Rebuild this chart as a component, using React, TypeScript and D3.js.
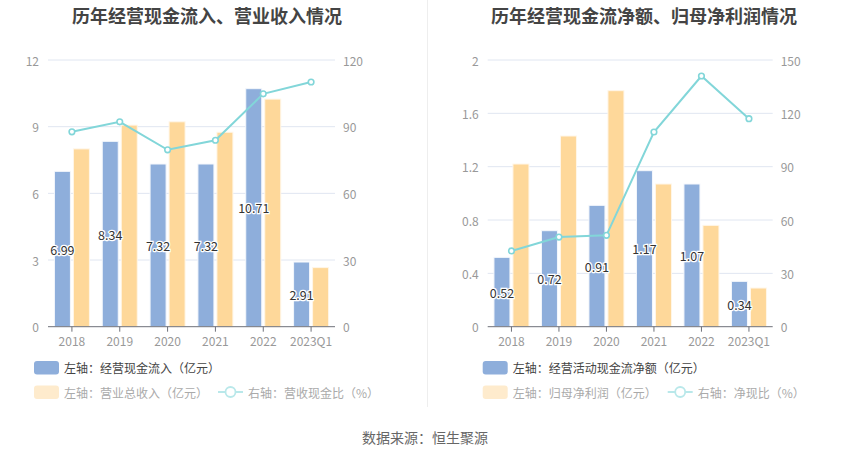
import React from "react";
import * as d3 from "d3";

const categories = ["2018", "2019", "2020", "2021", "2022", "2023Q1"];

// Left chart
const cashInflow = [6.99, 8.34, 7.32, 7.32, 10.71, 2.91];
const revenue = [8.0, 9.07, 9.22, 8.75, 10.24, 2.66];
const cashRevenueRatio = [87.7, 92.2, 79.6, 83.9, 104.8, 110.1];
const leftTicksL = [0, 3, 6, 9, 12];
const rightTicksL = [0, 30, 60, 90, 120];

// Right chart
const netCash = [0.52, 0.72, 0.91, 1.17, 1.07, 0.34];
const netProfit = [1.22, 1.43, 1.77, 1.07, 0.76, 0.29];
const netCashRatio = [42.6, 50.4, 51.4, 109.5, 141, 117];
const leftTicksR = [0, 0.4, 0.8, 1.2, 1.6, 2];
const rightTicksR = [0, 30, 60, 90, 120, 150];

const FONT = "'Noto Sans CJK SC', 'Noto Sans', sans-serif";
const BLUE = "#8eaedb";
const YELLOW = "#fed89a";
const CYAN = "#82d6d9";

type PanelProps = {
  x0: number;
  x1: number;
  title: string;
  titleX: number;
  barA: number[];
  barB: number[];
  line: number[];
  lTicks: number[];
  rTicks: number[];
  lMax: number;
  rMax: number;
  legA: string;
  legB: string;
  legC: string;
  legX: number;
  legLineX: number;
};

function Panel(p: PanelProps) {
  const top = 60;
  const bottom = 326.7;
  const x = d3.scaleBand<string>().domain(categories).range([p.x0, p.x1]);
  const yl = d3.scaleLinear().domain([0, p.lMax]).range([bottom, top]);
  const yr = d3.scaleLinear().domain([0, p.rMax]).range([bottom, top]);
  const bw = 16;
  const gap = 3;
  const cx = (c: string) => (x(c) as number) + x.bandwidth() / 2;
  const lineGen = d3
    .line<number>()
    .x((_, i) => cx(categories[i]))
    .y((d) => yr(d));
  return (
    <g fontFamily={FONT}>
      <text x={p.titleX} y={15} textAnchor="middle" dominantBaseline="central" fontSize={18} fontWeight="bold" fill="#444">
        {p.title}
      </text>
      {p.lTicks.map((t) => (
        <g key={"g" + t}>
          {t !== 0 && <line x1={p.x0} x2={p.x1} y1={yl(t)} y2={yl(t)} stroke="#e0e6f1" strokeWidth={1} />}
          <text x={p.x0 - 9} y={yl(t)} textAnchor="end" dominantBaseline="central" fontSize={12} fill="#999">
            {String(t)}
          </text>
        </g>
      ))}
      {p.rTicks.map((t) => (
        <text key={"r" + t} x={p.x1 + 8} y={yr(t)} textAnchor="start" dominantBaseline="central" fontSize={12} fill="#999">
          {t}
        </text>
      ))}
      {categories.map((c, i) => (
        <g key={c}>
          <rect x={cx(c) - gap / 2 - bw} y={yl(p.barA[i])} width={bw} height={bottom - yl(p.barA[i])} fill={BLUE} stroke="#f4f7fc" strokeWidth={1} />
          <rect x={cx(c) + gap / 2} y={yl(p.barB[i])} width={bw} height={bottom - yl(p.barB[i])} fill={YELLOW} stroke="#fff6e8" strokeWidth={1} />
          <line x1={cx(c)} x2={cx(c)} y1={bottom} y2={bottom + 5} stroke="#6e7079" />
          <text x={cx(c)} y={340} textAnchor="middle" dominantBaseline="central" fontSize={12} fill="#999">
            {c}
          </text>
        </g>
      ))}
      <line x1={p.x0} x2={p.x1} y1={bottom} y2={bottom} stroke="#6e7079" strokeWidth={1} />
      <path d={lineGen(p.line) || ""} fill="none" stroke={CYAN} strokeWidth={2} />
      {p.line.map((v, i) => (
        <circle key={"p" + i} cx={cx(categories[i])} cy={yr(v)} r={2.8} fill="#fff" stroke={CYAN} strokeWidth={1.6} />
      ))}
      {categories.map((c, i) => (
        <text
          key={"l" + c}
          x={cx(c) - gap / 2 - bw / 2}
          y={(yl(p.barA[i]) + bottom) / 2}
          textAnchor="middle"
          dominantBaseline="central"
          fontSize={12.5}
          fill="#333"
          stroke="#fff"
          strokeWidth={2.5}
          paintOrder="stroke"
        >
          {p.barA[i].toFixed(2)}
        </text>
      ))}
      <rect x={p.legX} y={361} width={25} height={13.5} rx={3} fill={BLUE} />
      <text x={p.legX + 30} y={367.7} dominantBaseline="central" fontSize={12} fill="#444">
        {p.legA}
      </text>
      <rect x={p.legX} y={385.5} width={25} height={13.5} rx={3} fill="#feebcd" />
      <text x={p.legX + 30} y={392} dominantBaseline="central" fontSize={12} fill="#aaa">
        {p.legB}
      </text>
      <line x1={p.legLineX} x2={p.legLineX + 25} y1={392} y2={392} stroke="#b9e8ea" strokeWidth={2} />
      <circle cx={p.legLineX + 12.5} cy={392} r={5} fill="#fff" stroke="#b9e8ea" strokeWidth={1.8} />
      <text x={p.legLineX + 30} y={392} dominantBaseline="central" fontSize={12} fill="#aaa">
        {p.legC}
      </text>
    </g>
  );
}

export default function App() {
  return (
    <svg width={850} height={459} style={{ position: "absolute", left: 0, top: 0, background: "#fff" }}>
      <rect width={850} height={459} fill="#fff" />
      <line x1={427.5} x2={427.5} y1={0} y2={407} stroke="#eeeeee" strokeWidth={1} />
      <Panel
        x0={48}
        x1={335}
        title="历年经营现金流入、营业收入情况"
        titleX={207}
        barA={cashInflow}
        barB={revenue}
        line={cashRevenueRatio}
        lTicks={leftTicksL}
        rTicks={rightTicksL}
        lMax={12}
        rMax={120}
        legA="左轴：经营现金流入（亿元）"
        legB="左轴：营业总收入（亿元）"
        legC="右轴：营收现金比（%）"
        legX={34}
        legLineX={218}
      />
      <Panel
        x0={487.7}
        x1={772.7}
        title="历年经营现金流净额、归母净利润情况"
        titleX={644}
        barA={netCash}
        barB={netProfit}
        line={netCashRatio}
        lTicks={leftTicksR}
        rTicks={rightTicksR}
        lMax={2}
        rMax={150}
        legA="左轴：经营活动现金流净额（亿元）"
        legB="左轴：归母净利润（亿元）"
        legC="右轴：净现比（%）"
        legX={482.7}
        legLineX={667.7}
      />
      <text x={425} y={437} textAnchor="middle" dominantBaseline="central" fontSize={14} fill="#666" fontFamily={FONT}>
        数据来源：恒生聚源
      </text>
    </svg>
  );
}
